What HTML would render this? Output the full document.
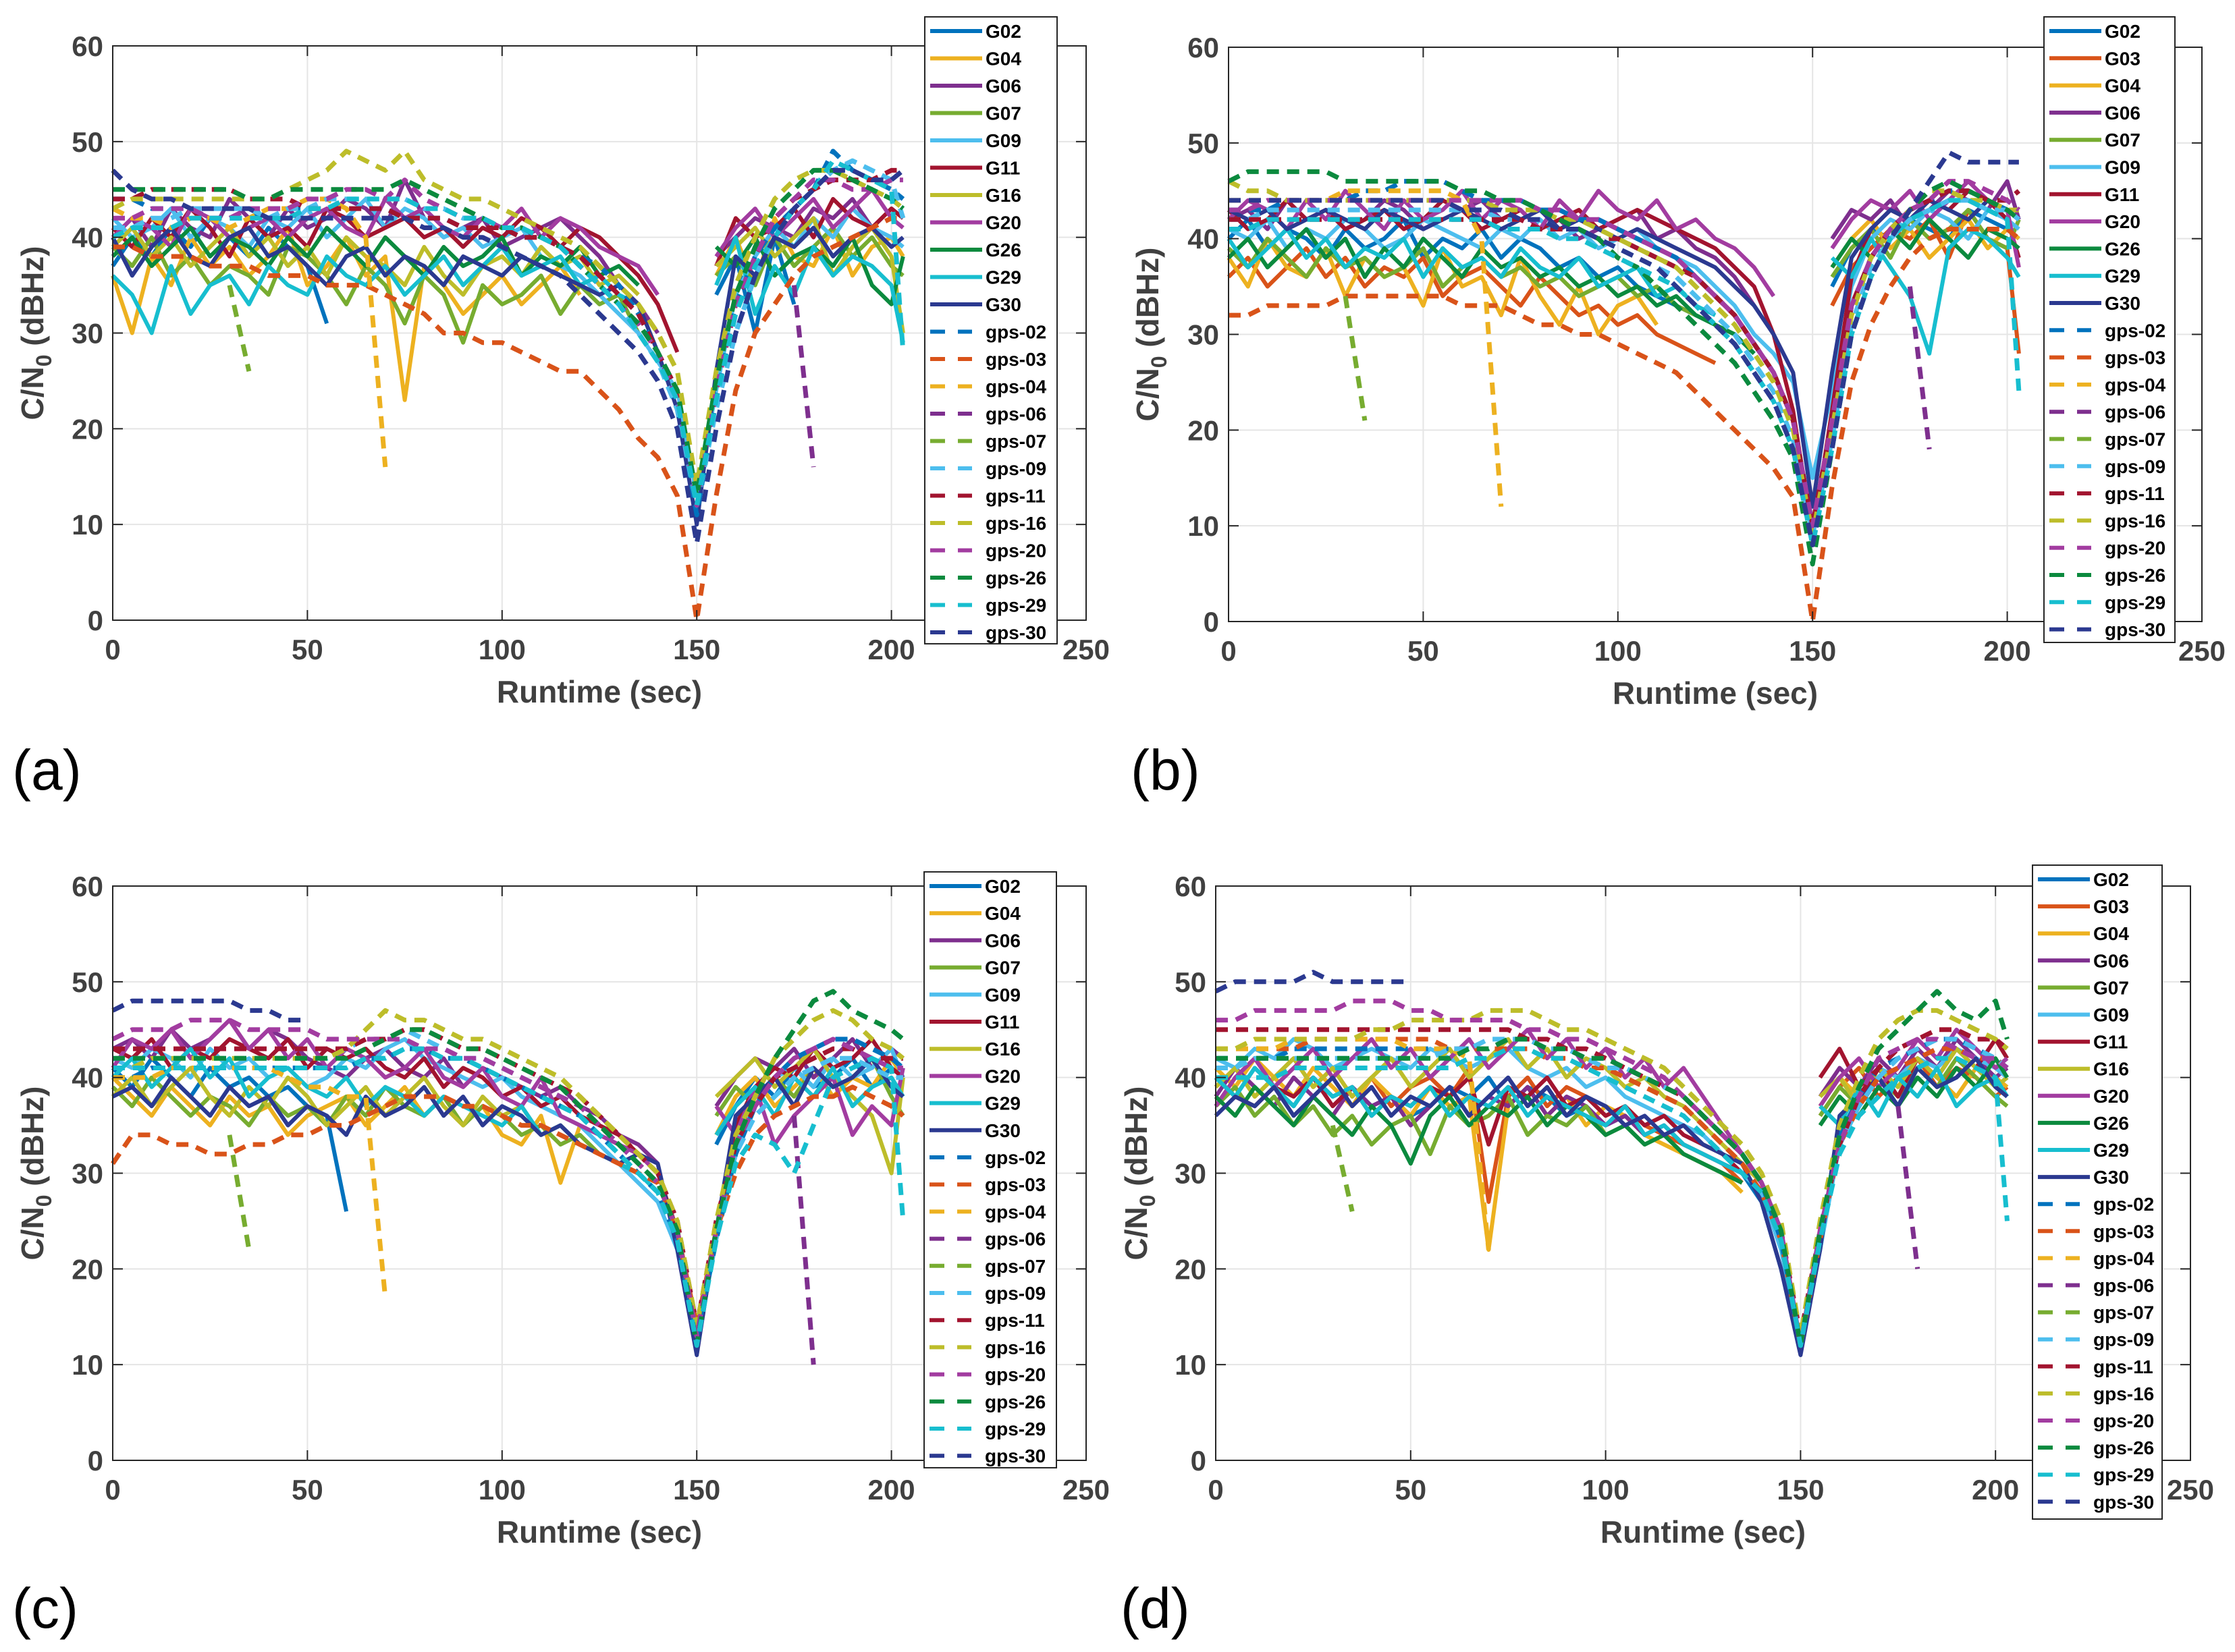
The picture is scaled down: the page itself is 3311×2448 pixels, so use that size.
<!DOCTYPE html>
<html><head><meta charset="utf-8"><style>
html,body{margin:0;padding:0;background:#fff;}
svg{display:block;font-family:"Liberation Sans",Arial,sans-serif;}
</style></head><body>
<svg id="fig" width="3311" height="2448" viewBox="0 0 3311 2448" xmlns="http://www.w3.org/2000/svg"></svg>
<script>
const _ = null;
const times = [0,5,10,15,20,25,30,35,40,45,50,55,60,65,70,75,80,85,90,95,100,105,110,115,120,125,130,135,140,145,150,155,160,165,170,175,180,185,190,195,200,203];
const xTicks = [0,50,100,150,200,250];
const yTicks = [0,10,20,30,40,50,60];

// Panel (a)
const A_G02 = [37,40,38,41,39,42,40,38,41,39,37,31,_,_,_,_,_,_,_,_,_,_,_,_,_,_,_,_,_,_,_,34,38,30,40,33,_,_,_,_,_,_];
const A_G04 = [36,30,38,35,40,37,39,36,38,41,35,37,40,36,38,23,37,35,32,34,36,33,35,37,34,_,_,_,_,_,_,36,40,35,42,38,37,41,36,39,40,38];
const A_G06 = [40,42,39,43,41,40,44,42,40,43,41,42,44,43,41,46,42,40,41,42,39,40,41,42,40,38,35,33,30,_,_,38,40,42,41,40,43,42,44,41,43,42];
const A_G07 = [39,37,40,36,38,35,37,36,34,39,38,36,33,37,35,31,36,34,29,35,33,34,36,32,35,33,34,30,_,_,_,36,38,35,40,37,39,41,38,40,37,36];
const A_G09 = [42,40,41,43,40,42,41,39,42,41,43,40,42,44,41,43,42,40,41,39,40,41,38,37,36,34,32,30,27,24,13,24,34,38,41,39,42,40,43,41,40,39];
const A_G11 = [41,39,42,40,43,41,38,42,40,41,39,43,42,40,41,42,40,41,39,41,40,42,41,39,41,40,38,36,33,28,_,37,42,40,41,43,40,44,42,41,43,42];
const A_G16 = [39,41,38,40,37,39,41,38,40,37,39,36,40,38,37,35,39,36,34,37,38,36,39,37,38,35,36,34,_,_,_,37,39,41,38,40,42,36,39,41,38,30];
const A_G20 = [40,42,41,39,43,42,40,41,42,40,42,43,41,40,44,42,43,41,40,42,41,43,40,42,41,39,38,37,34,_,_,38,41,43,40,42,44,41,43,45,42,41];
const A_G26 = [38,40,37,39,41,38,40,39,37,40,38,41,39,37,40,38,36,39,37,38,40,36,38,37,39,36,37,35,_,_,_,39,37,40,36,38,39,37,40,35,33,38];
const A_G29 = [36,34,30,37,32,35,36,33,37,35,34,38,36,35,37,34,36,38,35,37,39,36,37,38,35,36,34,33,_,_,_,35,40,32,37,34,39,36,38,37,35,29];
const A_G30 = [40,36,39,41,38,37,40,41,38,39,37,35,38,39,36,38,37,35,38,37,36,38,37,36,35,34,35,33,28,22,10,26,38,36,40,39,41,38,40,41,39,40];
const A_gps02 = [44,44,43,43,43,42,42,42,43,43,43,43,43,43,43,42,42,42,41,41,41,40,40,39,38,37,35,32,28,22,11,23,33,38,41,43,45,49,47,46,45,44];
const A_gps03 = [39,39,38,38,38,37,37,37,36,36,36,35,35,35,34,33,32,30,30,29,29,28,27,26,26,24,22,19,17,13,0,13,24,30,33,36,38,39,40,41,42,42];
const A_gps04 = [43,42,42,41,42,42,41,42,43,43,44,44,43,40,16,_,_,_,_,_,_,_,_,_,_,_,_,_,_,_,_,_,_,_,_,_,_,_,_,_,_,_];
const A_gps06 = [_,_,_,_,_,_,_,_,_,_,_,_,_,_,_,_,_,_,_,_,_,_,_,_,_,_,_,_,_,_,_,_,_,_,_,35,16,_,_,_,_,_];
const A_gps07 = [_,_,_,_,_,_,35,26,_,_,_,_,_,_,_,_,_,_,_,_,_,_,_,_,_,_,_,_,_,_,_,_,_,_,_,_,_,_,_,_,_,_];
const A_gps09 = [41,41,42,42,43,43,43,43,42,43,43,44,44,44,44,44,43,43,42,42,41,41,40,39,37,35,33,30,27,22,12,22,30,36,40,43,45,47,48,47,46,42];
const A_gps11 = [44,44,45,45,45,45,45,44,44,44,43,43,43,43,43,42,42,42,41,41,41,40,40,39,38,36,34,32,28,24,13,24,33,38,42,44,45,46,46,46,47,47];
const A_gps16 = [43,44,44,44,44,44,44,44,44,45,46,47,49,48,47,49,46,45,44,44,43,42,41,40,39,37,35,33,30,26,14,26,35,40,44,46,47,47,46,45,44,43];
const A_gps20 = [42,42,43,43,43,42,42,43,43,43,44,44,45,45,44,46,44,43,42,42,41,41,40,39,37,35,33,31,28,23,12,24,33,38,42,44,46,46,45,45,46,46];
const A_gps26 = [45,45,45,45,45,45,45,44,44,45,45,45,45,45,45,46,45,44,43,42,41,41,40,39,37,35,33,31,28,24,13,25,34,39,43,45,47,47,46,45,44,43];
const A_gps29 = [40,41,41,41,42,42,42,42,42,42,43,43,44,44,44,44,43,43,42,42,41,41,40,39,37,35,33,30,27,23,12,23,32,37,40,43,45,48,47,46,45,28];
const A_gps30 = [47,45,44,44,43,43,43,43,42,42,42,42,42,42,42,42,41,41,40,40,39,38,37,36,34,32,30,28,25,20,8,20,30,36,40,43,45,47,47,46,46,47];

// Panel (b)
const B_G02 = [40,42,39,41,40,38,41,39,40,42,38,40,39,41,38,40,39,37,38,36,37,35,34,33,32,31,30,28,_,_,_,35,39,41,40,42,41,40,43,42,41,40];
const B_G03 = [36,38,35,37,39,36,38,35,37,36,38,34,36,37,35,33,36,34,32,33,31,32,30,29,28,27,_,_,_,_,_,33,37,39,41,40,42,38,43,40,39,28];
const B_G04 = [38,35,40,37,36,39,34,38,36,37,33,39,35,36,32,38,34,31,35,30,33,34,31,_,_,_,_,_,_,_,_,37,40,42,39,41,38,40,42,39,41,40];
const B_G06 = [42,43,41,44,42,43,41,42,44,43,41,42,43,44,42,43,41,42,40,41,42,43,40,41,39,38,36,33,_,_,_,40,43,42,44,41,43,45,44,43,46,42];
const B_G07 = [39,37,40,38,36,39,37,38,36,37,39,35,37,38,36,37,35,36,34,35,36,34,35,33,32,31,30,_,_,_,_,36,39,41,38,42,40,41,43,40,39,42];
const B_G09 = [41,40,42,39,41,40,42,41,39,40,42,41,40,39,41,40,42,40,41,39,40,41,39,38,37,35,33,30,28,25,15,24,35,40,42,41,43,42,40,43,42,41];
const B_G11 = [43,41,42,44,42,43,41,42,43,41,42,44,43,41,42,43,41,42,43,41,42,43,42,41,40,39,37,35,30,22,9,22,36,41,43,42,44,43,45,44,42,38];
const B_G20 = [42,44,43,41,44,42,45,43,41,44,42,43,45,42,44,43,41,44,42,45,43,42,44,41,42,40,39,37,34,_,_,39,42,44,43,45,42,44,46,44,43,37];
const B_G26 = [38,40,37,39,41,38,40,36,39,37,40,38,36,39,37,38,36,37,35,36,34,35,33,34,32,31,30,28,_,_,_,37,40,38,41,39,42,40,38,41,40,39];
const B_G29 = [40,37,39,41,38,40,37,39,38,40,36,39,37,38,36,39,37,36,38,35,36,37,34,35,33,32,_,_,_,_,_,38,36,40,37,34,28,39,41,40,38,36];
const B_G30 = [43,42,43,41,42,43,42,41,43,42,41,42,43,42,41,42,43,41,42,41,40,41,40,39,38,37,35,33,30,26,12,26,38,41,43,42,44,43,42,44,43,42];
const B_gps02 = [43,43,43,44,44,44,44,45,45,46,46,46,45,44,44,44,43,43,42,42,41,40,39,38,36,34,32,29,26,21,10,21,33,38,41,43,44,45,45,44,43,42];
const B_gps03 = [32,32,33,33,33,33,34,34,34,34,34,34,33,33,33,32,31,31,30,30,29,28,27,26,24,22,20,18,16,13,0,14,25,31,35,38,40,41,41,41,41,40];
const B_gps04 = [44,44,44,44,44,44,45,45,45,45,45,45,44,40,12,_,_,_,_,_,_,_,_,_,_,_,_,_,_,_,_,_,_,_,_,_,_,_,_,_,_,_];
const B_gps06 = [_,_,_,_,_,_,_,_,_,_,_,_,_,_,_,_,_,_,_,_,_,_,_,_,_,_,_,_,_,_,_,_,_,_,_,35,18,_,_,_,_,_];
const B_gps07 = [_,_,_,_,_,_,34,21,_,_,_,_,_,_,_,_,_,_,_,_,_,_,_,_,_,_,_,_,_,_,_,_,_,_,_,_,_,_,_,_,_,_];
const B_gps09 = [42,42,43,43,43,43,43,43,43,43,43,43,43,43,42,42,42,41,41,40,39,38,37,36,34,32,30,27,24,19,9,19,31,37,40,42,43,44,44,43,43,42];
const B_gps11 = [42,42,42,42,42,42,42,42,42,42,42,42,42,42,42,42,41,41,41,40,40,39,38,37,36,34,32,29,26,21,10,21,33,38,41,43,44,45,45,44,44,45];
const B_gps16 = [46,45,45,44,44,44,44,44,44,44,44,44,44,44,43,43,43,42,42,41,40,39,38,37,35,33,31,28,25,20,9,20,32,38,41,43,45,45,44,44,43,43];
const B_gps20 = [43,43,44,44,44,44,44,44,44,44,44,44,44,44,44,44,43,43,42,42,41,40,39,38,36,34,32,29,26,21,10,21,33,38,41,43,44,46,46,45,44,43];
const B_gps26 = [46,47,47,47,47,47,46,46,46,46,46,46,45,45,44,44,43,42,41,40,38,37,35,33,31,29,27,24,21,17,6,18,30,36,40,43,45,46,45,44,43,42];
const B_gps29 = [41,41,42,42,42,42,42,42,42,42,42,42,42,42,41,41,41,40,40,39,38,37,36,35,33,31,29,26,23,18,8,18,30,36,40,42,43,44,44,43,42,24];
const B_gps30 = [44,44,44,44,44,44,44,44,44,44,44,44,43,43,43,42,42,41,41,40,39,38,37,35,33,31,29,26,23,18,8,18,30,36,40,43,46,49,48,48,48,48];

// Panel (c)
const C_G02 = [41,39,42,40,38,41,39,40,38,39,37,36,26,_,_,_,_,_,_,_,_,_,_,_,_,_,_,_,_,_,_,33,37,40,38,41,39,40,42,39,41,40];
const C_G04 = [40,38,36,39,37,35,38,36,37,34,36,37,38,35,37,39,36,38,35,37,34,33,36,29,35,_,_,_,_,_,_,34,38,40,37,39,41,38,40,39,42,40];
const C_G06 = [43,44,42,45,43,44,46,43,45,44,42,41,40,42,43,41,40,42,39,41,40,39,38,39,37,36,34,33,31,_,_,37,40,42,41,43,40,42,44,41,43,42];
const C_G07 = [39,37,40,38,36,38,37,35,38,36,37,35,38,36,39,37,36,38,35,37,36,34,35,33,34,32,31,30,_,_,_,36,39,37,40,38,41,39,40,42,38,36];
const C_G09 = [42,41,43,42,40,43,41,42,40,41,39,40,42,41,43,44,42,41,40,39,40,38,37,36,35,33,31,29,27,22,12,23,33,37,40,41,39,42,40,41,43,40];
const C_G11 = [43,42,44,41,43,42,44,43,42,44,41,43,42,43,41,40,42,39,41,40,38,39,37,38,36,35,34,32,30,24,14,24,35,39,41,40,43,41,42,44,41,40];
const C_G16 = [38,40,37,39,41,38,36,39,37,40,38,35,37,39,36,38,40,37,35,38,36,37,34,35,33,32,31,30,_,_,_,38,40,42,39,41,43,40,38,36,30,40];
const C_G20 = [41,44,43,45,42,44,46,43,45,42,44,41,43,42,40,41,43,40,39,41,38,37,40,36,35,34,33,32,30,_,_,37,34,39,33,36,38,40,34,37,35,41];
const C_G29 = [40,42,39,41,43,40,42,38,40,41,39,38,40,37,39,38,36,38,37,36,35,37,34,35,33,32,31,30,28,_,_,34,37,39,36,40,38,41,37,39,40,38];
const C_G30 = [38,39,37,40,38,36,39,37,38,35,37,36,34,38,36,37,39,36,38,35,37,36,34,35,33,32,31,32,31,22,11,24,36,38,40,37,41,39,40,42,39,38];
const C_gps02 = [40,40,41,41,41,41,41,41,41,41,41,41,41,42,42,43,43,42,42,41,40,39,38,37,36,34,32,30,28,23,13,23,32,37,40,42,43,44,44,43,42,41];
const C_gps03 = [31,34,34,33,33,32,32,33,33,34,34,35,35,36,37,38,38,38,37,37,36,35,35,34,33,32,31,30,29,24,14,24,30,34,36,37,38,38,39,38,37,36];
const C_gps04 = [40,40,40,41,41,41,41,41,41,40,39,39,38,38,17,_,_,_,_,_,_,_,_,_,_,_,_,_,_,_,_,_,_,_,_,_,_,_,_,_,_,_];
const C_gps06 = [_,_,_,_,_,_,_,_,_,_,_,_,_,_,_,_,_,_,_,_,_,_,_,_,_,_,_,_,_,_,_,_,_,_,_,36,10,_,_,_,_,_];
const C_gps07 = [_,_,_,_,_,_,34,22,_,_,_,_,_,_,_,_,_,_,_,_,_,_,_,_,_,_,_,_,_,_,_,_,_,_,_,_,_,_,_,_,_,_];
const C_gps09 = [42,42,42,42,42,42,42,42,42,42,42,42,43,44,44,45,44,43,42,42,41,40,39,38,37,35,33,31,29,24,13,24,32,36,38,40,41,42,42,41,40,40];
const C_gps11 = [43,43,43,43,43,43,43,43,43,43,43,43,43,44,44,45,45,44,43,43,42,41,40,39,38,36,34,32,30,25,14,25,33,37,40,41,42,43,43,42,42,42];
const C_gps16 = [41,41,42,42,42,42,42,42,42,42,42,42,43,45,47,46,46,45,44,44,43,42,41,40,38,36,34,32,30,25,14,25,34,38,42,44,46,47,46,44,43,42];
const C_gps20 = [44,45,45,45,46,46,46,45,45,45,45,44,44,44,44,44,43,43,42,42,41,40,39,38,37,35,33,31,29,24,13,24,33,37,40,42,43,44,43,42,41,41];
const C_gps26 = [42,42,42,42,42,42,42,42,42,42,42,42,42,43,44,45,45,44,43,43,42,41,40,39,37,35,33,31,29,24,12,24,33,38,42,45,48,49,47,46,45,44];
const C_gps29 = [41,41,41,41,41,41,41,41,41,41,41,41,41,42,42,43,43,42,42,41,40,39,38,37,36,34,32,30,28,23,12,23,31,34,33,30,35,40,41,42,41,25];
const C_gps30 = [47,48,48,48,48,48,48,47,47,46,46,_,_,_,_,_,_,_,_,_,_,_,_,_,_,_,_,_,_,_,_,_,_,_,_,_,_,_,_,_,_,_];

// Panel (d)
const D_G02 = [40,38,41,39,37,40,38,39,37,38,36,37,39,38,40,37,39,38,36,37,35,36,34,35,33,32,31,30,27,20,12,22,34,38,40,37,41,39,40,42,39,40];
const D_G03 = [39,41,38,40,42,39,41,38,40,37,39,40,38,41,27,38,40,37,39,38,36,37,35,34,33,32,31,29,_,_,_,36,39,41,38,40,42,39,41,40,38,39];
const D_G04 = [41,39,42,40,38,41,39,37,40,38,36,39,37,38,22,37,39,36,38,35,37,36,34,33,32,31,30,28,_,_,_,37,40,38,41,39,42,40,38,41,40,39];
const D_G06 = [38,41,39,37,40,38,36,39,37,38,35,37,39,36,38,37,39,36,38,37,35,36,34,35,33,32,31,30,_,_,_,38,41,39,42,40,43,41,44,42,40,41];
const D_G07 = [37,39,36,38,35,37,34,36,33,35,36,32,37,35,36,38,34,36,35,37,34,35,33,34,32,31,30,29,_,_,_,36,39,37,40,38,41,39,42,40,38,37];
const D_G09 = [42,41,43,42,44,43,41,42,43,42,41,43,42,41,42,43,41,40,41,39,40,38,37,36,35,34,32,30,28,22,12,22,33,38,41,40,42,41,43,42,41,40];
const D_G11 = [40,38,37,39,38,40,37,39,36,38,37,39,38,40,33,39,38,40,37,38,36,37,35,36,34,33,32,30,_,_,_,40,43,39,41,38,42,40,43,41,44,42];
const D_G16 = [39,41,38,40,42,39,41,38,40,42,39,41,43,40,42,44,41,43,40,42,41,39,40,38,37,35,33,31,29,_,_,38,40,37,41,39,42,40,43,41,39,40];
const D_G20 = [37,40,42,39,41,43,40,42,44,41,43,40,42,44,41,43,45,42,44,41,43,40,42,39,41,38,35,32,_,_,_,37,40,42,39,41,44,42,45,43,41,42];
const D_G26 = [38,36,39,37,35,38,36,34,37,35,31,36,38,35,37,36,38,35,37,36,34,35,33,34,32,31,30,29,_,_,_,35,38,36,39,37,40,38,41,39,42,40];
const D_G29 = [40,38,41,39,37,40,38,39,36,38,37,39,36,38,37,39,36,38,37,36,35,37,34,35,33,32,31,30,_,_,_,37,35,39,36,40,38,41,37,39,40,38];
const D_G30 = [36,38,37,39,36,38,40,37,39,36,38,37,39,36,38,40,37,39,36,38,37,35,36,34,35,33,32,31,27,20,11,22,36,38,40,37,41,39,40,42,39,38];
const D_gps02 = [42,42,42,42,43,43,43,43,43,43,43,43,43,43,43,44,44,43,43,42,42,41,40,39,38,36,34,32,29,23,12,24,34,38,41,42,43,44,44,43,42,41];
const D_gps03 = [43,43,43,43,43,44,44,44,44,44,44,44,43,43,43,43,43,42,42,41,41,40,39,38,37,35,33,31,28,23,12,23,33,37,40,41,42,43,43,42,42,41];
const D_gps04 = [43,43,43,43,44,44,44,44,44,44,43,43,43,42,22,_,_,_,_,_,_,_,_,_,_,_,_,_,_,_,_,_,_,_,_,_,_,_,_,_,_,_];
const D_gps06 = [_,_,_,_,_,_,_,_,_,_,_,_,_,_,_,_,_,_,_,_,_,_,_,_,_,_,_,_,_,_,_,_,_,_,_,37,20,_,_,_,_,_];
const D_gps07 = [_,_,_,_,_,_,35,26,_,_,_,_,_,_,_,_,_,_,_,_,_,_,_,_,_,_,_,_,_,_,_,_,_,_,_,_,_,_,_,_,_,_];
const D_gps09 = [41,41,42,42,42,42,42,42,42,42,42,42,43,43,44,44,44,43,43,42,41,41,40,39,38,36,34,32,29,24,12,24,33,37,40,42,43,44,44,43,42,41];
const D_gps11 = [45,45,45,45,45,45,45,45,45,45,45,45,45,45,45,45,44,44,43,43,42,41,40,39,38,36,34,32,29,24,13,24,33,38,41,43,44,45,45,44,44,43];
const D_gps16 = [43,43,44,44,44,44,44,44,45,45,46,46,46,46,47,47,47,46,45,45,44,43,42,41,39,37,35,33,30,25,13,25,35,40,44,46,47,47,46,45,44,43];
const D_gps20 = [46,46,47,47,47,47,47,48,48,48,47,47,46,46,46,46,45,45,44,44,43,42,41,40,38,36,34,32,29,24,12,24,33,38,42,43,44,44,43,42,42,41];
const D_gps26 = [42,42,42,42,42,42,42,42,42,42,42,42,42,43,43,44,44,43,43,42,42,41,40,39,38,36,34,32,29,24,12,24,34,39,43,45,47,49,47,46,48,44];
const D_gps29 = [40,40,40,40,41,41,41,41,41,41,41,41,41,42,42,43,43,42,42,41,40,39,38,37,36,34,32,30,28,23,12,23,32,36,38,40,41,42,42,41,40,25];
const D_gps30 = [49,50,50,50,50,51,50,50,50,50,50,_,_,_,_,_,_,_,_,_,_,_,_,_,_,_,_,_,_,_,_,_,_,_,_,_,_,_,_,_,_,_];

const COLORS = {"02":"#0072BD","03":"#D95319","04":"#EDB120","06":"#7E2F8E","07":"#77AC30","09":"#4DBEEE","11":"#A2142F","16":"#BDBD2A","20":"#A23CA0","26":"#0B8A3E","29":"#17BECF","30":"#2B3990"};

const panels = [
 {id:"a", x0:167,x1:1609,yTop:68,yBot:919, leg:{x:1370,y:25,w:196,h:929,step:40.5}, label:{x:18,y:1170}, ylab:48,
  series:[["G02",A_G02],["G04",A_G04],["G06",A_G06],["G07",A_G07],["G09",A_G09],["G11",A_G11],["G16",A_G16],["G20",A_G20],["G26",A_G26],["G29",A_G29],["G30",A_G30],
   ["gps-02",A_gps02],["gps-03",A_gps03],["gps-04",A_gps04],["gps-06",A_gps06],["gps-07",A_gps07],["gps-09",A_gps09],["gps-11",A_gps11],["gps-16",A_gps16],["gps-20",A_gps20],["gps-26",A_gps26],["gps-29",A_gps29],["gps-30",A_gps30]]},
 {id:"b", x0:1820,x1:3262,yTop:70,yBot:921, leg:{x:3028,y:25,w:194,h:927,step:40.3}, label:{x:1675,y:1170}, ylab:1700,
  series:[["G02",B_G02],["G03",B_G03],["G04",B_G04],["G06",B_G06],["G07",B_G07],["G09",B_G09],["G11",B_G11],["G20",B_G20],["G26",B_G26],["G29",B_G29],["G30",B_G30],
   ["gps-02",B_gps02],["gps-03",B_gps03],["gps-04",B_gps04],["gps-06",B_gps06],["gps-07",B_gps07],["gps-09",B_gps09],["gps-11",B_gps11],["gps-16",B_gps16],["gps-20",B_gps20],["gps-26",B_gps26],["gps-29",B_gps29],["gps-30",B_gps30]]},
 {id:"c", x0:167,x1:1609,yTop:1313,yBot:2164, leg:{x:1369,y:1292,w:196,h:883,step:40.2}, label:{x:18,y:2412}, ylab:48,
  series:[["G02",C_G02],["G04",C_G04],["G06",C_G06],["G07",C_G07],["G09",C_G09],["G11",C_G11],["G16",C_G16],["G20",C_G20],["G29",C_G29],["G30",C_G30],
   ["gps-02",C_gps02],["gps-03",C_gps03],["gps-04",C_gps04],["gps-06",C_gps06],["gps-07",C_gps07],["gps-09",C_gps09],["gps-11",C_gps11],["gps-16",C_gps16],["gps-20",C_gps20],["gps-26",C_gps26],["gps-29",C_gps29],["gps-30",C_gps30]]},
 {id:"d", x0:1801,x1:3245,yTop:1313,yBot:2164, leg:{x:3011,y:1282,w:192,h:969,step:40.1}, label:{x:1660,y:2412}, ylab:1683,
  series:[["G02",D_G02],["G03",D_G03],["G04",D_G04],["G06",D_G06],["G07",D_G07],["G09",D_G09],["G11",D_G11],["G16",D_G16],["G20",D_G20],["G26",D_G26],["G29",D_G29],["G30",D_G30],
   ["gps-02",D_gps02],["gps-03",D_gps03],["gps-04",D_gps04],["gps-06",D_gps06],["gps-07",D_gps07],["gps-09",D_gps09],["gps-11",D_gps11],["gps-16",D_gps16],["gps-20",D_gps20],["gps-26",D_gps26],["gps-29",D_gps29],["gps-30",D_gps30]]}
];

const NS = "http://www.w3.org/2000/svg";
const svg = document.getElementById("fig");
function mk(tag, attrs, parent){ const e=document.createElementNS(NS,tag); for(const k in attrs) e.setAttribute(k,attrs[k]); (parent||svg).appendChild(e); return e; }

panels.forEach(p=>{
  const g = mk("g",{});
  
  
  const xs = v => p.x0 + (v-0)/250*(p.x1-p.x0);
  const ys = v => p.yBot - (v-0)/60*(p.yBot-p.yTop);
  xTicks.forEach(t=>{ const l=mk("line",{x1:xs(t),x2:xs(t),y1:p.yTop,y2:p.yBot,stroke:"#e5e5e5","stroke-width":2},g);
      });
  yTicks.forEach(t=>{ const l=mk("line",{x1:p.x0,x2:p.x1,y1:ys(t),y2:ys(t),stroke:"#e5e5e5","stroke-width":2},g);
      });
  const sg = mk("g",{"stroke-linejoin":"round","fill":"none"},g);
   
  p.series.forEach(([name,vals])=>{
    const col = COLORS[name.slice(-2)];
    const dashed = name.startsWith("gps");
    let d="", pen=false;
    vals.forEach((v,i)=>{ if(v===null||i>=times.length){pen=false;return;} d += (pen?"L":"M")+xs(times[i]).toFixed(1)+" "+ys(v).toFixed(1)+" "; pen=true; });
    const path = mk("path",{d:d,stroke:col,"stroke-width":dashed?7:6,"stroke-dasharray":dashed?"18 12":"none"},sg);
    
    
  });
  const box = mk("rect",{x:p.x0,y:p.yTop,width:p.x1-p.x0,height:p.yBot-p.yTop,fill:"none",stroke:"#262626","stroke-width":2},g);
   
  xTicks.forEach(t=>{
    mk("line",{x1:xs(t),x2:xs(t),y1:p.yBot,y2:p.yBot-15,stroke:"#262626","stroke-width":2},g);
    mk("line",{x1:xs(t),x2:xs(t),y1:p.yTop,y2:p.yTop+15,stroke:"#262626","stroke-width":2},g);
    const tx = mk("text",{x:xs(t),y:p.yBot+58,"text-anchor":"middle","font-size":42,"font-weight":"bold",fill:"#404040"},g);
    tx.textContent = t;
     
  });
  yTicks.forEach(t=>{
    mk("line",{x1:p.x0,x2:p.x0+15,y1:ys(t),y2:ys(t),stroke:"#262626","stroke-width":2},g);
    mk("line",{x1:p.x1,x2:p.x1-15,y1:ys(t),y2:ys(t),stroke:"#262626","stroke-width":2},g);
    const ty = mk("text",{x:p.x0-14,y:ys(t)+15,"text-anchor":"end","font-size":42,"font-weight":"bold",fill:"#404040"},g);
    ty.textContent = t;
     
  });
  const xl = mk("text",{x:(p.x0+p.x1)/2,y:p.yBot+122,"text-anchor":"middle","font-size":46,"font-weight":"bold",fill:"#404040"},g);
  xl.textContent="Runtime (sec)";
   
  const cy=(p.yTop+p.yBot)/2;
  const yl = mk("text",{x:0,y:0,transform:`translate(${p.ylab+16},${cy}) rotate(-90)`,"text-anchor":"middle","font-size":46,"font-weight":"bold",fill:"#404040"},g);
  yl.innerHTML = 'C/N<tspan dy="12" font-size="32">0</tspan><tspan dy="-12"> (dBHz)</tspan>';
   
  const L=p.leg;
  const lg = mk("g",{},g);
   
  mk("rect",{x:L.x,y:L.y,width:L.w,height:L.h,fill:"#fff",stroke:"#262626","stroke-width":2},lg);
  p.series.forEach(([name],i)=>{
    const yy = L.y + 21 + i*L.step;
    const col = COLORS[name.slice(-2)];
    const dashed = name.startsWith("gps");
    const ent = mk("g",{},lg);
     
    if(dashed){
      mk("line",{x1:L.x+8,x2:L.x+30,y1:yy,y2:yy,stroke:col,"stroke-width":6},ent);
      mk("line",{x1:L.x+49,x2:L.x+70,y1:yy,y2:yy,stroke:col,"stroke-width":6},ent);
    } else {
      mk("line",{x1:L.x+8,x2:L.x+85,y1:yy,y2:yy,stroke:col,"stroke-width":6},ent);
    }
    const t = mk("text",{x:L.x+90,y:yy+10,"font-size":28,"font-weight":"bold",fill:"#000"},ent);
    t.textContent=name;
  });
  const pl = mk("text",{x:p.label.x,y:p.label.y,"font-size":84,fill:"#000"},g);
  pl.textContent="("+p.id+")";
   
});
</script>
</body></html>
